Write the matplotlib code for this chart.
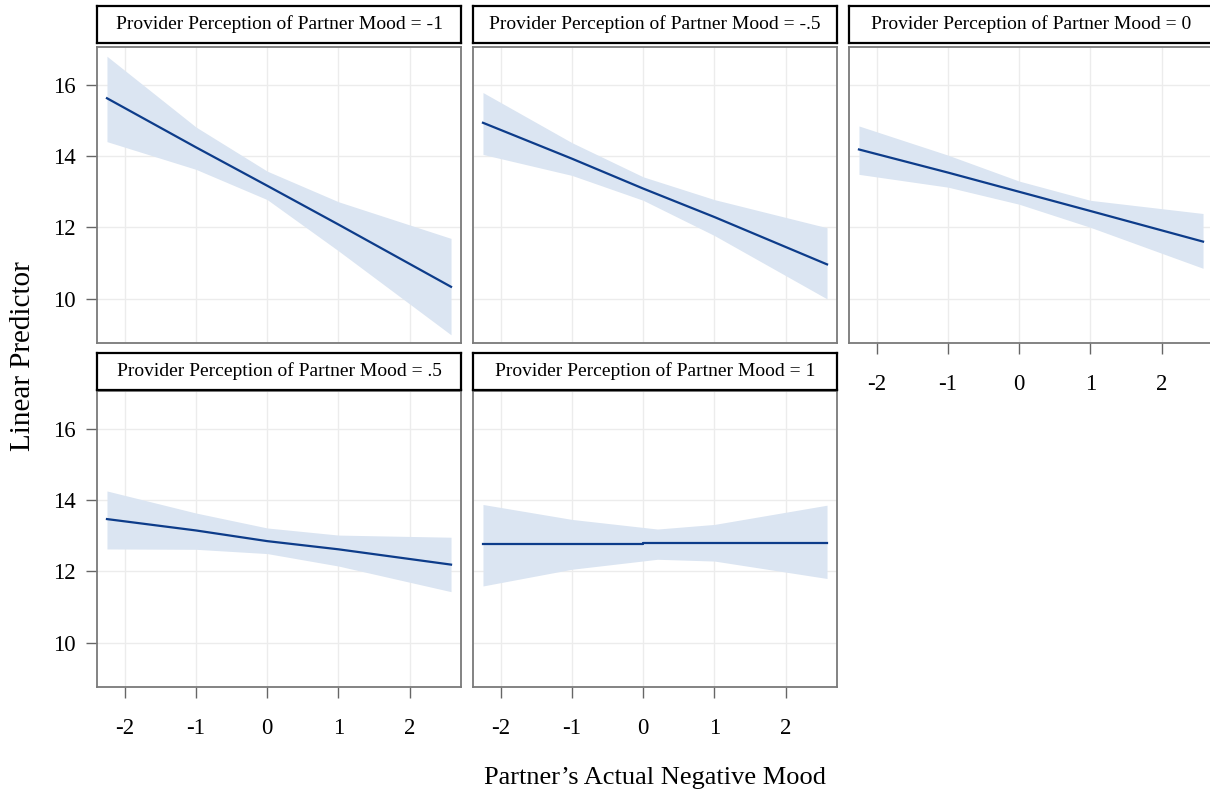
import matplotlib
matplotlib.use("Agg")
import matplotlib.pyplot as plt

plt.rcParams['font.family'] = ['Liberation Serif', 'DejaVu Serif']

# === DATA ===
mood_levels = ["-1", "-.5", "0", ".5", "1"]
x_pts = [-2.25, -1, 0, 1, 2.58]

fit_m1 = [15.63, 14.25, 13.17, 12.08, 10.33]
lo_m1 = [14.41, 13.63, 12.78, 11.34, 8.98]
hi_m1 = [16.81, 14.82, 13.58, 12.72, 11.69]

fit_m05 = [14.94, 13.93, 13.09, 12.29, 10.96]
lo_m05 = [14.05, 13.46, 12.76, 11.77, 9.99]
hi_m05 = [15.79, 14.38, 13.42, 12.78, 11.99]

fit_0 = [14.19, 13.54, 13.00, 12.46, 11.60]
lo_0 = [13.49, 13.13, 12.65, 12.00, 10.85]
hi_0 = [14.85, 14.03, 13.30, 12.76, 12.39]

fit_p05 = [13.47, 13.15, 12.85, 12.62, 12.19]
lo_p05 = [12.63, 12.62, 12.50, 12.15, 11.43]
hi_p05 = [14.26, 13.64, 13.22, 13.02, 12.96]

# last panel: flat line with a small jump at 0
x_p1_line = [-2.25, 0, 0, 2.58]
fit_p1 = [12.76, 12.76, 12.80, 12.80]
x_p1_band = [-2.25, -1, 0.2, 1, 2.58]
lo_p1 = [11.59, 12.06, 12.34, 12.29, 11.80]
hi_p1 = [13.88, 13.46, 13.19, 13.32, 13.86]

x_ticks = [-2, -1, 0, 1, 2]
y_ticks = [10, 12, 14, 16]

panels = [
    (x_pts, fit_m1, x_pts, lo_m1, hi_m1),
    (x_pts, fit_m05, x_pts, lo_m05, hi_m05),
    (x_pts, fit_0, x_pts, lo_0, hi_0),
    (x_pts, fit_p05, x_pts, lo_p05, hi_p05),
    (x_p1_line, fit_p1, x_p1_band, lo_p1, hi_p1),
]

# === LAYOUT (pixels of a 1210x795 canvas) ===
W, H = 1210, 795
col_left = [97, 473, 849]
pw = 364
row_top = [47, 391]
ph = 296
strip_h = 37
strip_gap = [4, 1]

line_col = "#0d3c8a"
band_col = "#dbe5f2"
spine_col = "#7a7a7a"

fig = plt.figure(figsize=(12.1, 7.95), dpi=100)

for i, (xl, fit, xb, lo, hi) in enumerate(panels):
    r, c = divmod(i, 3)
    left = col_left[c] / W
    bottom = 1 - (row_top[r] + ph) / H
    ax = fig.add_axes([left, bottom, pw / W, ph / H])
    ax.fill_between(xb, lo, hi, color=band_col, lw=0, zorder=2)
    ax.plot(xl, fit, color=line_col, lw=1.6, zorder=3)
    ax.set_xlim(-2.39, 2.72)
    ax.set_ylim(8.75, 17.07)
    ax.set_xticks(x_ticks)
    ax.set_yticks(y_ticks)
    ax.grid(True, color="#ececec", lw=1, zorder=0)
    ax.set_axisbelow(True)
    for s in ax.spines.values():
        s.set_color(spine_col)
        s.set_linewidth(1.3)

    show_y = (c == 0)
    show_x = (r == 1) or (i == 2)
    ax.tick_params(axis='y', direction='out', length=8, width=1, color="#666666",
                   pad=7, labelsize=16.5, left=show_y, labelleft=show_y)
    ax.tick_params(axis='x', direction='out', length=8, width=1, color="#666666",
                   pad=14, labelsize=16.5, bottom=show_x, labelbottom=show_x)
    if show_x:
        ax.set_xticklabels([str(t) for t in x_ticks])

    # strip header
    s_bottom = 1 - (row_top[r] - strip_gap[r]) / H
    sax = fig.add_axes([left, s_bottom, pw / W, strip_h / H])
    sax.set_xticks([])
    sax.set_yticks([])
    for s in sax.spines.values():
        s.set_color("black")
        s.set_linewidth(1.6)
    sax.text(0.5, 0.5, "Provider Perception of Partner Mood = " + mood_levels[i],
             ha="center", va="center", fontsize=14, transform=sax.transAxes)

fig.text(23 / W, 1 - 356 / H, "Linear Predictor", rotation=90,
         ha="center", va="center", fontsize=21)
fig.text(655 / W, 1 - 778 / H, "Partner\u2019s Actual Negative Mood",
         ha="center", va="center", fontsize=19)

fig.savefig("out.png", dpi=100)
